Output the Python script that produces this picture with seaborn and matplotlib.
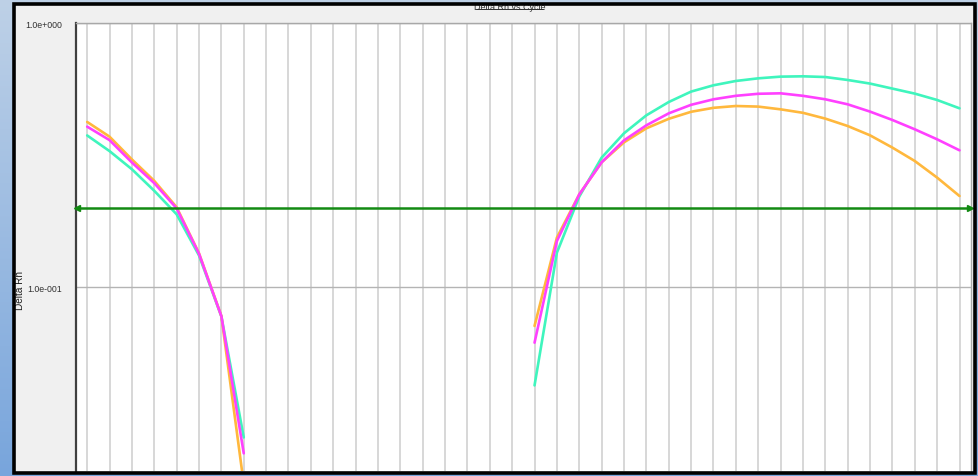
import numpy as np
import pandas as pd
import matplotlib
matplotlib.use("Agg")
import matplotlib.pyplot as plt
from matplotlib.patches import Rectangle
from matplotlib.lines import Line2D
from matplotlib.ticker import NullLocator, FixedLocator
import seaborn as sns

# ---------------- data ----------------
title = "Delta Rn vs Cycle"
y_label = "Delta Rn"
y_ticks = [1.0, 0.1]
y_tick_labels = ["1.0e+000", "1.0e-001"]
threshold = 0.2
wells = ["Well A", "Well B", "Well C"]
colors = ["#3ff5bd", "#ffb83d", "#ff40ff"]

early_cycles = [1, 2, 3, 4, 5, 6, 7, 8]
early_a = [0.376, 0.328, 0.280, 0.232, 0.189, 0.132, 0.0775, 0.0270]
early_b = [0.423, 0.372, 0.305, 0.253, 0.201, 0.1345, 0.0778, 0.0180]
early_c = [0.406, 0.361, 0.297, 0.248, 0.199, 0.134, 0.0777, 0.0235]

late_cycles = list(range(21, 41))
late_a = [0.0425, 0.1353, 0.2206, 0.3099, 0.3832, 0.4482, 0.5033, 0.5512, 0.5824, 0.6047,
          0.6188, 0.6280, 0.6298, 0.6259, 0.6100, 0.5911, 0.5658, 0.5416, 0.5123, 0.4764]
late_b = [0.0714, 0.1543, 0.2249, 0.2975, 0.3541, 0.4002, 0.4347, 0.4622, 0.4785, 0.4861,
          0.4836, 0.4722, 0.4581, 0.4355, 0.4083, 0.3764, 0.3382, 0.3009, 0.2603, 0.2217]
late_c = [0.0617, 0.1497, 0.2249, 0.2975, 0.3603, 0.4108, 0.4560, 0.4912, 0.5154, 0.5313,
          0.5408, 0.5430, 0.5313, 0.5154, 0.4933, 0.4629, 0.4303, 0.3967, 0.3635, 0.3303]

all_cycles = list(range(1, 41))

rows = []
for w, e, l in zip(wells, [early_a, early_b, early_c], [late_a, late_b, late_c]):
    for c, v in zip(early_cycles, e):
        rows.append({"cycle": c, "value": v, "well": w, "seg": w + "_1"})
    for c, v in zip(late_cycles, l):
        rows.append({"cycle": c, "value": v, "well": w, "seg": w + "_2"})
df = pd.DataFrame(rows)

# ---------------- figure ----------------
sns.set_style("white")
plt.rcParams["font.family"] = ["Liberation Sans", "DejaVu Sans"]

W, H = 979, 477
fig = plt.figure(figsize=(W / 100, H / 100), dpi=100)

def fx(px):
    return px / W

def fy(py):
    return 1 - py / H

# background gradient + gray panel
bg = fig.add_axes([0, 0, 1, 1])
top = np.array([0xbe, 0xd1, 0xe7]) / 255
bot = np.array([0x78, 0xa5, 0xdc]) / 255
t = np.linspace(0, 1, 256)[:, None]
grad = (top[None, :] * (1 - t) + bot[None, :] * t)[:, None, :]
grad = np.repeat(grad, 4, axis=1)
bg.imshow(grad, aspect="auto", extent=[0, 1, 0, 1], origin="upper")
bg.add_patch(Rectangle((fx(14), fy(473)), fx(974) - fx(14), fy(5) - fy(473),
                       facecolor="#f0f0f0", edgecolor="none", transform=bg.transAxes))
bg.set_xlim(0, 1)
bg.set_ylim(0, 1)
bg.axis("off")

# main axes
left, right, topp, bottom = 76, 970.7, 24.3, 471.7
ax = fig.add_axes([fx(left), fy(bottom), fx(right) - fx(left), fy(topp) - fy(bottom)])
ax.set_zorder(1)
ax.set_facecolor("white")

sns.lineplot(data=df, x="cycle", y="value", hue="well", units="seg", estimator=None,
             palette=dict(zip(wells, colors)), hue_order=wells, linewidth=1.9,
             legend=False, ax=ax, sort=True)

ax.set_yscale("log")
ax.set_xlim(0.5, 40.5)
ax.set_ylim(0.0202, 1.0)

# threshold line with end arrows
ax.axhline(threshold, color="#138a13", lw=1.8, zorder=5)
ax.plot([0.55], [threshold], marker="<", color="#138a13", ms=4, zorder=5, clip_on=False)
ax.plot([40.45], [threshold], marker=">", color="#138a13", ms=4, zorder=5, clip_on=False)

# grid
ax.xaxis.set_major_locator(FixedLocator(all_cycles))
ax.set_xticklabels([])
ax.tick_params(axis="x", length=0)
ax.yaxis.set_major_locator(FixedLocator(y_ticks))
ax.yaxis.set_minor_locator(NullLocator())
ax.set_yticklabels(y_tick_labels)
ax.tick_params(axis="y", length=0, pad=10, labelsize=6.3, labelcolor="#303030")
ax.grid(axis="x", color="#d4d4d4", lw=1.3)
ax.grid(axis="y", color="#b4b4b4", lw=1.0)
ax.set_axisbelow(True)
ax.set_xlabel("")
ax.set_ylabel("")

for s in ["top", "right"]:
    ax.spines[s].set_color("#a8a8a8")
    ax.spines[s].set_linewidth(1.0)
ax.spines["left"].set_color("#404040")
ax.spines["left"].set_linewidth(1.6)
ax.spines["bottom"].set_visible(False)

# y label
fig.text(fx(20), fy(291), y_label, rotation=90, ha="center", va="center",
         fontsize=7.2, color="#202020")

# title (partly hidden by the frame)
fig.text(fx(509.5), fy(7.5), title, ha="center", va="center", fontsize=6.5, color="#303030", zorder=2)
fig.lines.append(Line2D([fx(476), fx(543)], [fy(10.3), fy(10.3)], transform=fig.transFigure,
                        color="#303030", lw=0.7, zorder=2))

# black frame over everything
fig.patches.append(Rectangle((fx(14), fy(473.5)), fx(975.5) - fx(14), fy(5) - fy(473.5),
                             facecolor="none", edgecolor="black", lw=2.6,
                             transform=fig.transFigure, zorder=10))

fig.savefig("out.png", dpi=100)
